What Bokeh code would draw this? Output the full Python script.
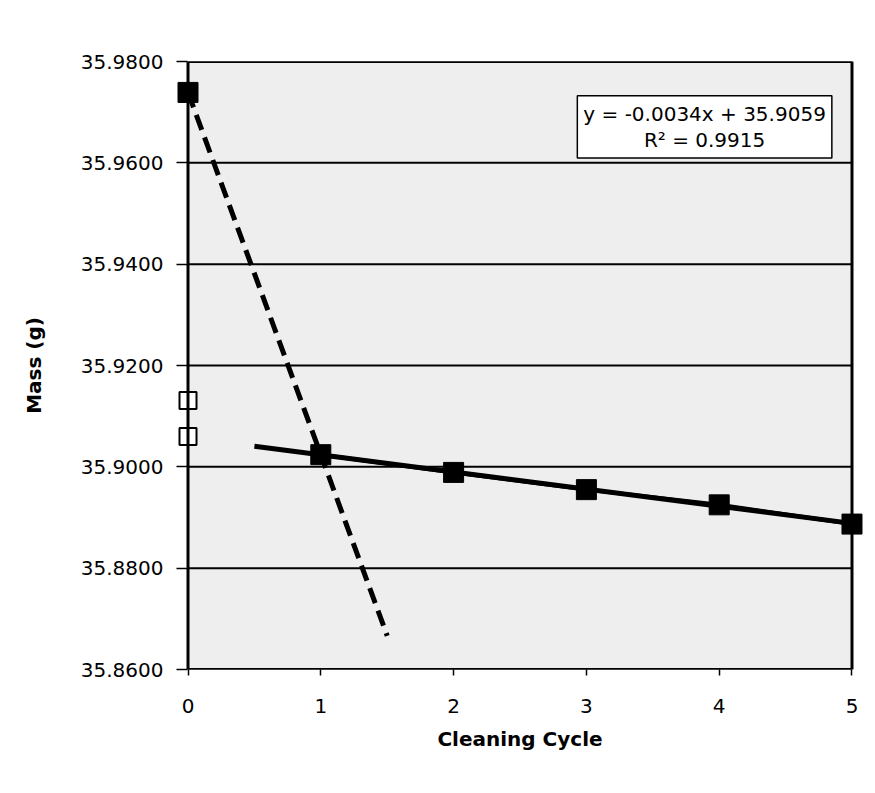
import numpy as np
from bokeh.plotting import figure
from bokeh.models import FixedTicker, NumeralTickFormatter, Label, BoxAnnotation
from bokeh.embed import file_html
from bokeh.resources import INLINE

# ---- data ----
cycle = [1, 2, 3, 4, 5]
mass = [35.9024, 35.8989, 35.8955, 35.8925, 35.8887]
initial_cycle = [0]
initial_mass = [35.9739]
other_cycle = [0, 0]
other_mass = [35.9131, 35.9060]
x_ticks = [0, 1, 2, 3, 4, 5]
y_ticks = [35.86, 35.88, 35.90, 35.92, 35.94, 35.96, 35.98]
equation_text = "y = -0.0034x + 35.9059\nR\u00b2 = 0.9915"

FONT = "DejaVu Sans"
X0, X1 = x_ticks[0], x_ticks[-1]
Y0, Y1 = y_ticks[0], y_ticks[-1]
PAD = 0.0866  # room so the edge markers are not clipped

p = figure(width=867, height=780, output_backend="svg", toolbar_location=None,
           x_range=(X0 - PAD, X1 + PAD), y_range=(Y0, Y1),
           min_border_left=176, min_border_right=4, min_border_top=61,
           min_border_bottom=111)

p.background_fill_color = "white"
p.border_fill_color = "white"
p.outline_line_color = None

# plot area box
p.add_layout(BoxAnnotation(left=X0, right=X1, bottom=Y0, top=Y1,
                           fill_color="#eeeeee", fill_alpha=1.0,
                           line_color=None, level="underlay"))

# grid lines drawn within the plot area only
p.xgrid.visible = False
p.ygrid.visible = False
p.segment(x0=[X0] * len(y_ticks), x1=[X1] * len(y_ticks), y0=y_ticks, y1=y_ticks,
          line_color="black", line_width=2)
# frame outline
p.add_layout(BoxAnnotation(left=X0, right=X1, bottom=Y0, top=Y1,
                           fill_alpha=0, line_color="black", line_alpha=1.0,
                           line_width=3, level="overlay"))

# axes
p.xaxis.ticker = FixedTicker(ticks=x_ticks)
p.yaxis.ticker = FixedTicker(ticks=y_ticks)
p.yaxis.formatter = NumeralTickFormatter(format="0.0000")
for ax in (p.xaxis[0], p.yaxis[0]):
    ax.axis_line_color = None
    ax.major_tick_line_color = "black"
    ax.major_tick_line_width = 1.5
    ax.minor_tick_line_color = None
    ax.major_label_text_font = FONT
    ax.major_label_text_font_size = "20px"
    ax.major_label_text_color = "black"
    ax.axis_label_text_font = FONT
    ax.axis_label_text_font_size = "20px"
    ax.axis_label_text_font_style = "bold"
    ax.axis_label_text_color = "black"

p.xaxis.axis_label = "Cleaning Cycle"
p.yaxis.axis_label = "Mass (g)"
p.xaxis.major_tick_in = 0
p.xaxis.major_tick_out = 6
p.yaxis.major_tick_in = 11
p.yaxis.major_tick_out = 0
p.xaxis.major_label_standoff = 23
p.yaxis.major_label_standoff = 13
p.xaxis.axis_label_standoff = 11
p.yaxis.axis_label_standoff = 32

# trend lines computed from the data
k1, b1 = np.polyfit(np.array(cycle, dtype=float), np.array(mass), 1)
tx = np.array([0.5, 5.0])
p.line(tx, k1 * tx + b1, line_color="black", line_width=5)

k0, b0 = np.polyfit(np.array([initial_cycle[0], cycle[0]], dtype=float),
                    np.array([initial_mass[0], mass[0]]), 1)
dx = np.array([0.0, 1.5])
p.line(dx, k0 * dx + b0, line_color="black", line_width=5, line_dash="16 8")

# series
p.line(cycle, mass, line_color="black", line_width=4)
p.scatter(cycle, mass, marker="square", size=20, fill_color="black", line_color="black")
p.scatter(initial_cycle, initial_mass, marker="square", size=20,
          fill_color="black", line_color="black")
p.scatter(other_cycle, other_mass, marker="square", size=17,
          fill_color="white", line_color="black", line_width=2)

# equation box
lbl = Label(x=3.89, y=35.9671, text=equation_text, text_align="center",
            text_baseline="middle", text_font=FONT, text_font_size="20px",
            text_color="black", background_fill_color="white",
            border_line_color="black", border_line_width=1.5, padding=6,
            text_line_height=1.1)
p.add_layout(lbl)

open("out.html", "w").write(file_html(p, INLINE))
